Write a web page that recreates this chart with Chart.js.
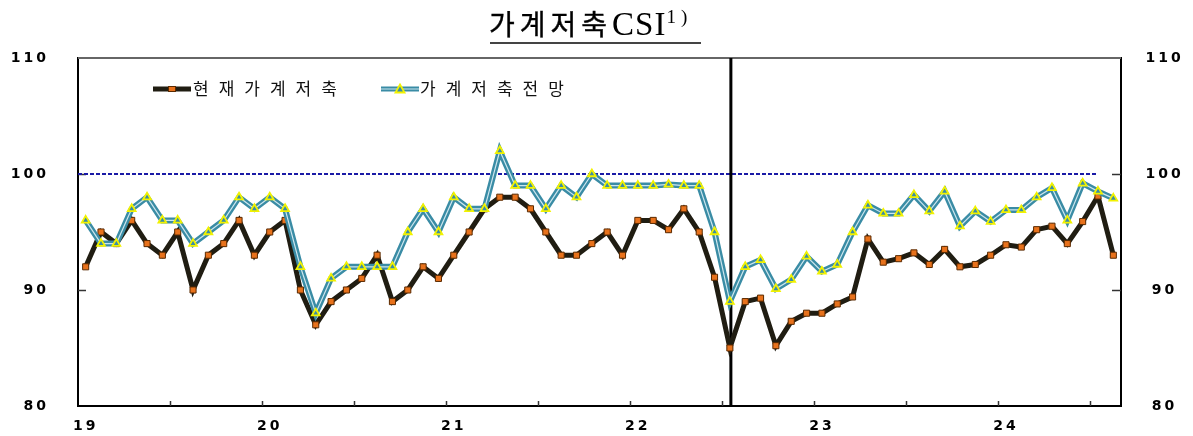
<!DOCTYPE html>
<html>
<head>
<meta charset="utf-8">
<script src="https://cdn.jsdelivr.net/npm/chart.js@4.4.1/dist/chart.umd.min.js"></script>
<style>
  html, body { margin: 0; padding: 0; background: #fff; }
  #wrap { position: relative; width: 1193px; height: 436px; overflow: hidden; }
  #chart { position: absolute; left: 0; top: 0; }
  #title { position: absolute; left: 489px; top: 3px; white-space: nowrap; line-height: 40px; color: #000; }
  #title .kr { font-family: "Noto Sans CJK KR"; font-size: 28px; font-weight: 400; letter-spacing: 5px; -webkit-text-stroke: 0.4px #000; }
  #title .en { font-family: "Liberation Serif"; font-size: 33px; letter-spacing: 1px; }
  #title .sup { font-family: "Liberation Serif"; font-size: 19px; letter-spacing: 5px; position: relative; top: -12px; }
  #uline { position: absolute; left: 490px; top: 42px; width: 211px; height: 2px; background: #444; }
  .leg { position: absolute; top: 78px; font-family: "Noto Sans CJK KR"; font-size: 17px; line-height: 20px; letter-spacing: 10px; color: #111; white-space: nowrap; }
  .sw { position: absolute; top: 83px; }
</style>
</head>
<body>
<div id="wrap">
  <canvas id="chart" width="1193" height="436"></canvas>
  <div id="title"><span class="kr">가계저축</span><span class="en">CSI</span><span class="sup">1)</span></div>
  <div id="uline"></div>
  <canvas class="sw" id="sw1" width="38" height="12" style="left:153px"></canvas>
  <div class="leg" style="left:193px">현재가계저축</div>
  <canvas class="sw" id="sw2" width="38" height="12" style="left:381px"></canvas>
  <div class="leg" style="left:420px">가계저축전망</div>
</div>
<script>
// ---- data ----
const months = [
  '19.01','19.02','19.03','19.04','19.05','19.06','19.07','19.08','19.09','19.10','19.11','19.12',
  '20.01','20.02','20.03','20.04','20.05','20.06','20.07','20.08','20.09','20.10','20.11','20.12',
  '21.01','21.02','21.03','21.04','21.05','21.06','21.07','21.08','21.09','21.10','21.11','21.12',
  '22.01','22.02','22.03','22.04','22.05','22.06','22.07','22.08','22.09','22.10','22.11','22.12',
  '23.01','23.02','23.03','23.04','23.05','23.06','23.07','23.08','23.09','23.10','23.11','23.12',
  '24.01','24.02','24.03','24.04','24.05','24.06','24.07','24.08'
];
const yearLabels = ['19','20','21','22','23','24'];
const seriesNames = ['현재가계저축', '가계저축전망'];
const currentSaving = [
  92, 95, 94, 96, 94, 93, 95, 90, 93, 94, 96, 93,
  95, 96, 90, 87, 89, 90, 91, 93, 89, 90, 92, 91,
  93, 95, 97, 98, 98, 97, 95, 93, 93, 94, 95, 93,
  96, 96, 95.2, 97, 95, 91.1, 85, 89, 89.3, 85.2, 87.3, 88,
  88, 88.8, 89.4, 94.4, 92.4, 92.7, 93.2, 92.2, 93.5, 92, 92.2, 93,
  93.9, 93.7, 95.2, 95.5, 94, 95.9, 98.1, 93
];
const savingOutlook = [
  96, 94, 94, 97, 98, 96, 96, 94, 95, 96, 98, 97,
  98, 97, 92, 88, 91, 92, 92, 92, 92, 95, 97, 95,
  98, 97, 97, 102, 99, 99, 97, 99, 98, 100, 99, 99,
  99, 99, 99.1, 99, 99, 95, 89, 92, 92.6, 90.1, 90.9, 92.9,
  91.6, 92.2, 95, 97.3, 96.6, 96.6, 98.2, 96.8, 98.5, 95.5, 96.8, 95.9,
  96.9, 96.9, 98, 98.8, 96, 99.2, 98.5, 97.9
];
const yTicks = [80, 90, 100, 110];
const refLevel = 100;
const breakIndex = 42;     // vertical break line (22.07)
const refLineEndIndex = 66;

// ---- styles ----
const C_BLACK = '#201d12';
const C_ORANGE = '#e8721c';
const C_TEAL = '#3a8ca5';
const C_TEAL_IN = '#cde6ee';
const C_YELLOW = '#f2f200';

// legend swatches
(function(){
  const s1 = document.getElementById('sw1').getContext('2d');
  s1.strokeStyle = C_BLACK; s1.lineWidth = 5;
  s1.beginPath(); s1.moveTo(0, 6); s1.lineTo(38, 6); s1.stroke();
  s1.fillStyle = C_ORANGE; s1.fillRect(15, 3, 8, 6);
  s1.strokeStyle = '#5a2a00'; s1.lineWidth = 1; s1.strokeRect(15.5, 3.5, 7, 5);
  const s2 = document.getElementById('sw2').getContext('2d');
  s2.strokeStyle = C_TEAL; s2.lineWidth = 5;
  s2.beginPath(); s2.moveTo(0, 6); s2.lineTo(38, 6); s2.stroke();
  s2.strokeStyle = C_TEAL_IN; s2.lineWidth = 1;
  s2.beginPath(); s2.moveTo(0, 6); s2.lineTo(38, 6); s2.stroke();
  s2.fillStyle = C_TEAL; s2.strokeStyle = C_YELLOW; s2.lineWidth = 1.8;
  s2.beginPath(); s2.moveTo(19, 1.5); s2.lineTo(23.5, 9.5); s2.lineTo(14.5, 9.5); s2.closePath(); s2.fill(); s2.stroke();
})();

const decor = {
  id: 'decor',
  beforeDraw(chart) { chart.ctx.letterSpacing = '3px'; },
  afterDraw(chart) { chart.ctx.letterSpacing = '0px'; },
  beforeDatasetsDraw(chart) {
    const { ctx, chartArea: a, scales } = chart;
    const x = scales.x, y = scales.y;
    ctx.save();
    // top frame
    ctx.strokeStyle = '#666'; ctx.lineWidth = 2;
    ctx.beginPath(); ctx.moveTo(a.left, a.top); ctx.lineTo(a.right, a.top); ctx.stroke();
    // inner y ticks
    ctx.strokeStyle = '#333'; ctx.lineWidth = 1.5;
    yTicks.slice(1, -1).forEach(v => {
      const py = Math.round(y.getPixelForValue(v)) + 0.5;
      ctx.beginPath(); ctx.moveTo(a.left, py); ctx.lineTo(a.left + 8, py); ctx.stroke();
      ctx.beginPath(); ctx.moveTo(a.right - 9, py); ctx.lineTo(a.right, py); ctx.stroke();
    });
    // inner x ticks every half year (category boundaries)
    const cw = x.getPixelForValue(1) - x.getPixelForValue(0);
    for (let k = 6; k < months.length; k += 6) {
      const px = Math.round(x.getPixelForValue(k) - cw / 2) + 0.5;
      ctx.beginPath(); ctx.moveTo(px, a.bottom); ctx.lineTo(px, a.bottom - 5); ctx.stroke();
    }
    // reference dashed line at 100
    const y100 = y.getPixelForValue(refLevel);
    ctx.strokeStyle = '#1a1aa6'; ctx.lineWidth = 2; ctx.setLineDash([4, 2]);
    ctx.beginPath(); ctx.moveTo(a.left, y100); ctx.lineTo(x.getPixelForValue(refLineEndIndex), y100); ctx.stroke();
    ctx.setLineDash([]);
    // vertical break line
    const bx = x.getPixelForValue(breakIndex) + 1;
    ctx.strokeStyle = '#000'; ctx.lineWidth = 3;
    ctx.beginPath(); ctx.moveTo(bx, a.top); ctx.lineTo(bx, a.bottom); ctx.stroke();
    ctx.restore();
  }
};

const tickFont = { family: 'DejaVu Sans', weight: 'bold', size: 14 };
const fitY = (w) => (s) => { s.width = w; s.paddingTop = 0; s.paddingBottom = 0; };

new Chart(document.getElementById('chart'), {
  type: 'line',
  data: {
    labels: months,
    datasets: [
      {
        label: seriesNames[0], data: currentSaving, order: 3,
        borderColor: C_BLACK, borderWidth: 5, tension: 0,
        pointStyle: 'rect', pointRadius: 4.3, pointBackgroundColor: C_ORANGE,
        pointBorderColor: '#5a2a00', pointBorderWidth: 1
      },
      {
        label: seriesNames[1], data: savingOutlook, order: 2,
        borderColor: C_TEAL, borderWidth: 6, tension: 0, pointRadius: 0
      },
      {
        label: seriesNames[1] + ' ', data: savingOutlook, order: 1,
        borderColor: C_TEAL_IN, borderWidth: 1.2, tension: 0,
        pointStyle: 'triangle', pointRadius: 4.5, pointBackgroundColor: C_TEAL,
        pointBorderColor: C_YELLOW, pointBorderWidth: 1.8
      }
    ]
  },
  options: {
    responsive: false,
    animation: false,
    events: [],
    layout: { autoPadding: false, padding: { top: 58, left: 0, right: 0, bottom: 0 } },
    plugins: { legend: { display: false }, tooltip: { enabled: false }, title: { display: false } },
    scales: {
      x: {
        type: 'category', offset: true,
        grid: { display: false, drawTicks: false },
        border: { display: true, color: '#000', width: 2 },
        ticks: {
          autoSkip: false, maxRotation: 0, minRotation: 0, padding: 12,
          font: tickFont, color: '#000',
          callback: (v, i) => (i % 12 === 0 ? yearLabels[i / 12] : '')
        },
        afterFit: s => { s.height = 30; s.paddingLeft = 0; s.paddingRight = 0; }
      },
      y: {
        position: 'left', min: 80, max: 110,
        grid: { display: false, drawTicks: false },
        border: { display: true, color: '#000', width: 2 },
        ticks: { stepSize: 10, padding: 29, crossAlign: 'near', font: tickFont, color: '#000' },
        afterFit: fitY(78)
      },
      y1: {
        position: 'right', min: 80, max: 110,
        grid: { display: false, drawTicks: false },
        border: { display: true, color: '#000', width: 2 },
        ticks: { stepSize: 10, padding: 29, crossAlign: 'center', font: tickFont, color: '#000' },
        afterFit: fitY(72)
      }
    }
  },
  plugins: [decor]
});
</script>
</body>
</html>
